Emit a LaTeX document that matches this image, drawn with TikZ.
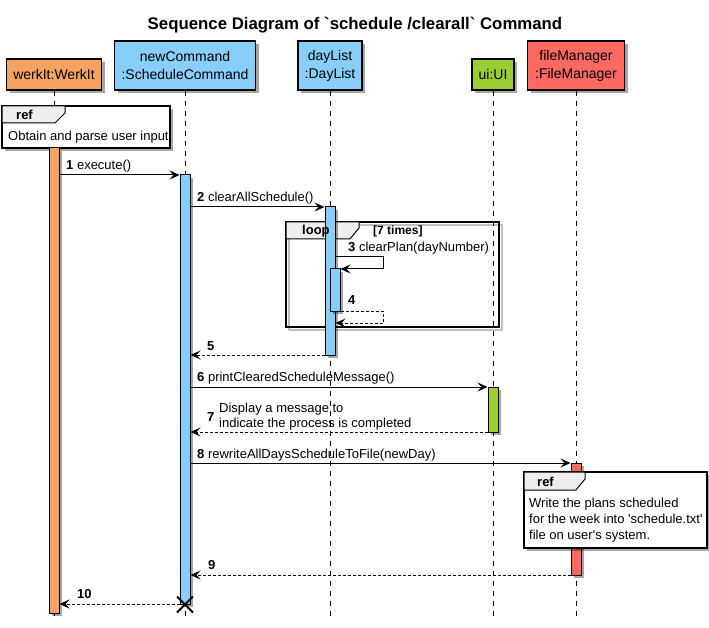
\documentclass[tikz,border=0pt]{standalone}
\usepackage{fontspec}
\setmainfont{Liberation Sans}
\usetikzlibrary{arrows.meta,shadows}
\definecolor{cOrange}{HTML}{F4A460}
\definecolor{cBlue}{HTML}{87CEFA}
\definecolor{cGreen}{HTML}{9ACD32}
\definecolor{cRed}{HTML}{FF6961}
\definecolor{cTab}{HTML}{EEEEEE}
\begin{document}
\begin{tikzpicture}[x=1pt,y=-1pt,
  shad/.style={drop shadow={shadow xshift=3pt,shadow yshift=-3pt,opacity=0.35,fill=black}},
  part/.style={draw=black, line width=1.3pt, shad, font=\fontsize{14}{18}\selectfont, align=center, inner sep=0pt},
  life/.style={dash pattern=on 5pt off 5pt, line width=1pt},
  actbar/.style={draw=black, line width=1pt, minimum width=10pt, inner sep=0pt, shad},
  msg/.style={line width=1pt, -{Stealth[length=10pt,width=9pt,inset=4pt]}},
  ret/.style={msg, dash pattern=on 3pt off 2pt},
  lbl/.style={anchor=base west, inner sep=0pt, font=\fontsize{13}{16}\selectfont},
  frm/.style={draw=black, line width=1.5pt, shad},
  tabst/.style={draw=black, line width=1pt, fill=cTab},
]
\useasboundingbox[fill=white] (0,0) rectangle (709,628);

% title
\node[anchor=base, inner sep=0pt, font=\bfseries\fontsize{16.8}{20}\selectfont] (title) at (355,30) {Sequence Diagram of \textasciigrave schedule /clearall\textasciigrave{} Command};

% participants
\node[part, fill=cOrange, minimum width=95pt, minimum height=31pt] (pW) at (54,74.5) {werkIt:WerkIt};
\node[part, fill=cBlue, minimum width=141pt, minimum height=49pt] (pN) at (185,65.5) {newCommand\\:ScheduleCommand};
\node[part, fill=cBlue, minimum width=64pt, minimum height=49pt] (pD) at (330,65.5) {dayList\\:DayList};
\node[part, fill=cGreen, minimum width=42pt, minimum height=31pt] (pU) at (493,74.5) {ui:UI};
\node[part, fill=cRed, minimum width=97pt, minimum height=49pt] (pF) at (576,65.5) {fileManager\\:FileManager};

% lifelines
\coordinate (bot) at (0,620);
\foreach \p in {pW,pN,pD,pU,pF} {\draw[life] (\p.south) -- (\p.south |- bot);}

% ref 1
\draw[frm, fill=white] (2,106) rectangle (170,148);
\draw[tabst] (2,106) -- (65,106) -- (65,113) -- (55,123) -- (2,123) -- cycle;
\node[lbl, font=\bfseries\fontsize{13}{16}\selectfont] (r1h) at (16,120) {ref};
\node[lbl] (r1t) at (8,141) {Obtain and parse user input};

% loop frame (outline shadow drawn by hand)
\draw[line width=2.5pt, black, opacity=0.25] (289,225) rectangle (502,330);
\draw[line width=2pt] (286,222) rectangle (499,327);
\draw[tabst] (286,222) -- (359,222) -- (359,228) -- (350,239) -- (286,239) -- cycle;

% activations
\node[actbar, fill=cOrange, minimum height=465pt] (aW) at (54,380.5) {};
\node[actbar, fill=cBlue, minimum height=429pt] (aN) at (185,389.5) {};
\node[actbar, fill=cBlue, minimum height=148pt] (aD) at (330,281) {};
\node[actbar, fill=cBlue, minimum height=42pt] (aD2) at (335,290) {};
\node[actbar, fill=cGreen, minimum height=45pt] (aU) at (493,409.5) {};
\node[actbar, fill=cRed, minimum height=112pt] (aF) at (576,519) {};

% loop labels
\node[lbl, font=\bfseries\fontsize{13}{16}\selectfont] (lph) at (302,235) {loop};
\node[lbl, font=\bfseries\fontsize{12}{14}\selectfont] (lpc) at (373,235) {[7 times]};

% ref 2
\draw[frm, fill=white] (524,472) rectangle (707,548);
\draw[tabst] (524,472) -- (585,472) -- (585,479) -- (576,490) -- (524,490) -- cycle;
\node[lbl, font=\bfseries\fontsize{13}{16}\selectfont] (r2h) at (537,486) {ref};
\node[lbl] (r2a) at (529,507) {Write the plans scheduled};
\node[lbl] (r2b) at (529,523) {for the week into \textquotesingle schedule.txt\textquotesingle};
\node[lbl] (r2c) at (529,539) {file on user\textquotesingle s system.};

% y levels
\coordinate (y1) at (0,175);
\coordinate (y2) at (0,207);
\coordinate (s3) at (383,257);
\coordinate (y3b) at (0,269);
\coordinate (s4) at (383,311);
\coordinate (y4b) at (0,323);
\coordinate (y5) at (0,355);
\coordinate (y6) at (0,387);
\coordinate (y7) at (0,432);
\coordinate (y8) at (0,463);
\coordinate (y9) at (0,575);
\coordinate (y10) at (0,604);

% messages
\draw[msg] (aW.east |- y1) -- (aN.west |- y1);
\node[lbl] (l1) at (66,170) {\textbf{1} execute()};
\draw[msg] (aN.east |- y2) -- (aD.west |- y2);
\node[lbl] (l2) at (197,202) {\textbf{2} clearAllSchedule()};
\draw[msg] (aD.east |- s3) -- (s3) -- (s3 |- y3b) -- (aD2.east |- y3b);
\node[lbl] (l3) at (348,252) {\textbf{3} clearPlan(dayNumber)};
\draw[ret] (aD2.east |- s4) -- (s4) -- (s4 |- y4b) -- (aD.east |- y4b);
\node[lbl] (l4) at (348,304) {\textbf{4}};
\draw[ret] (aD.west |- y5) -- (aN.east |- y5);
\node[lbl] (l5) at (207,350) {\textbf{5}};
\draw[msg] (aN.east |- y6) -- (aU.west |- y6);
\node[lbl] (l6) at (197,381) {\textbf{6} printClearedScheduleMessage()};
\draw[ret] (aU.west |- y7) -- (aN.east |- y7);
\node[lbl] (l7) at (207,421) {\textbf{7}};
\node[lbl] (l7a) at (219,412) {Display a message to};
\node[lbl] (l7b) at (219,427) {indicate the process is completed};
\draw[msg] (aN.east |- y8) -- (aF.west |- y8);
\node[lbl] (l8) at (197,458) {\textbf{8} rewriteAllDaysScheduleToFile(newDay)};
\draw[ret] (aF.west |- y9) -- (aN.east |- y9);
\node[lbl] (l9) at (208,569) {\textbf{9}};
\draw[ret] (aN.west |- y10) -- (aW.east |- y10);
\node[lbl] (l10) at (77,598) {\textbf{10}};

% destroy
\draw[line width=1.8pt] ([shift={(-8,-8)}]aN.south) -- ([shift={(8,8)}]aN.south);
\draw[line width=1.8pt] ([shift={(8,-8)}]aN.south) -- ([shift={(-8,8)}]aN.south);
\end{tikzpicture}
\end{document}
